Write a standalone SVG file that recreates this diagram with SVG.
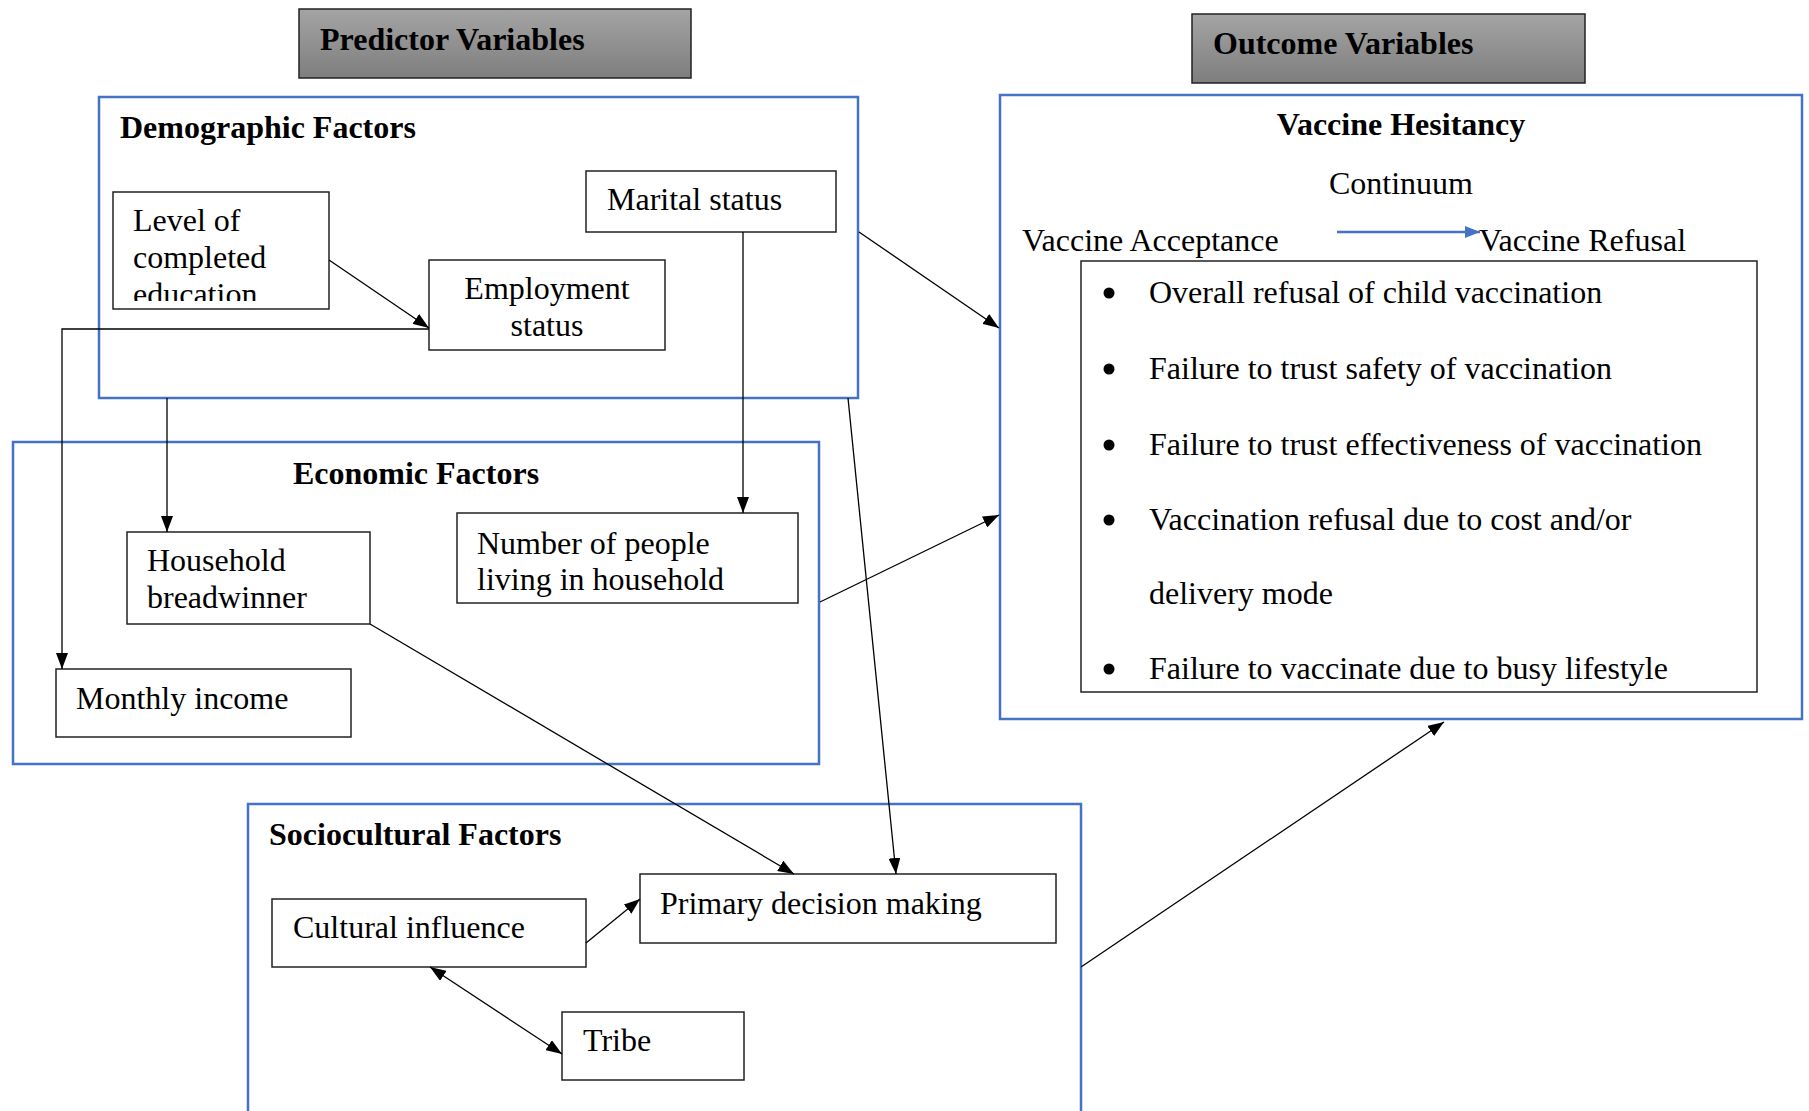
<svg xmlns="http://www.w3.org/2000/svg" width="1809" height="1111" viewBox="0 0 1809 1111">
<style>
text{font-family:"Liberation Serif","Times New Roman",serif;font-size:32px;fill:#000}
.b{font-weight:bold}
.c{text-anchor:middle}
.grp{fill:none;stroke:#4472C4;stroke-width:2.5}
.box{fill:#fff;stroke:#222;stroke-width:1.5}
.hdr{fill:url(#g);stroke:#222;stroke-width:1.5}
.con{fill:none;stroke:#000;stroke-width:1.3}
</style>
<defs>
<linearGradient id="g" x1="0" y1="0" x2="0" y2="1">
<stop offset="0" stop-color="#a4a4a4"/>
<stop offset="1" stop-color="#7e7e7e"/>
</linearGradient>
<marker id="ah" markerUnits="userSpaceOnUse" markerWidth="16" markerHeight="12" refX="16" refY="6" orient="auto-start-reverse">
<path d="M0,0 L16,6 L0,12 z" fill="#000"/>
</marker>
<marker id="ahb" markerUnits="userSpaceOnUse" markerWidth="15" markerHeight="12" refX="15" refY="6" orient="auto">
<path d="M0,0 L15,6 L0,12 z" fill="#4472C4"/>
</marker>
<clipPath id="clipLevel"><rect x="113" y="192" width="216" height="109"/></clipPath>
</defs>
<rect width="1809" height="1111" fill="#fff"/>

<g id="predictor-header">
<rect class="hdr" x="299" y="9" width="392" height="69"/>
<text class="b" x="320" y="50">Predictor Variables</text>
</g>
<g id="outcome-header">
<rect class="hdr" x="1192" y="14" width="393" height="69"/>
<text class="b" x="1213" y="54">Outcome Variables</text>
</g>

<g id="demographic-factors">
<rect class="grp" x="99" y="97" width="759" height="301"/>
<text class="b" x="120" y="138">Demographic Factors</text>
</g>
<g id="economic-factors">
<rect class="grp" x="13" y="442" width="806" height="322"/>
<text class="b c" x="416" y="484">Economic Factors</text>
</g>
<g id="sociocultural-factors">
<rect class="grp" x="248" y="804" width="833" height="330"/>
<text class="b" x="269" y="845">Sociocultural Factors</text>
</g>
<g id="vaccine-hesitancy">
<rect class="grp" x="1000" y="95" width="802" height="624"/>
<text class="b c" x="1401" y="135">Vaccine Hesitancy</text>
<text class="c" x="1401" y="194">Continuum</text>
<text x="1022" y="251">Vaccine Acceptance</text>
<line x1="1337" y1="232" x2="1480" y2="232" stroke="#4472C4" stroke-width="2.5" marker-end="url(#ahb)"/>
<text x="1479" y="251">Vaccine Refusal</text>
</g>

<g id="level-of-education">
<rect class="box" x="113" y="192" width="216" height="117"/>
<g clip-path="url(#clipLevel)">
<text x="133" y="231">Level of</text>
<text x="133" y="268">completed</text>
<text x="133" y="305">education</text>
</g>
</g>
<g id="marital-status">
<rect class="box" x="586" y="171" width="250" height="61"/>
<text x="607" y="210">Marital status</text>
</g>
<g id="employment-status">
<rect class="box" x="429" y="260" width="236" height="90"/>
<text class="c" x="547" y="299">Employment</text>
<text class="c" x="547" y="336">status</text>
</g>
<g id="household-breadwinner">
<rect class="box" x="127" y="532" width="243" height="92"/>
<text x="147" y="571">Household</text>
<text x="147" y="608">breadwinner</text>
</g>
<g id="number-of-people">
<rect class="box" x="457" y="513" width="341" height="90"/>
<text x="477" y="554">Number of people</text>
<text x="477" y="590">living in household</text>
</g>
<g id="monthly-income">
<rect class="box" x="56" y="669" width="295" height="68"/>
<text x="76" y="709">Monthly income</text>
</g>
<g id="cultural-influence">
<rect class="box" x="272" y="899" width="314" height="68"/>
<text x="293" y="938">Cultural influence</text>
</g>
<g id="primary-decision-making">
<rect class="box" x="640" y="874" width="416" height="69"/>
<text x="660" y="914">Primary decision making</text>
</g>
<g id="tribe">
<rect class="box" x="562" y="1012" width="182" height="68"/>
<text x="583" y="1051">Tribe</text>
</g>
<g id="hesitancy-items">
<rect class="box" x="1081" y="261" width="676" height="431"/>
<circle cx="1109" cy="293" r="5.5"/>
<text x="1149" y="303">Overall refusal of child vaccination</text>
<circle cx="1109" cy="369" r="5.5"/>
<text x="1149" y="379">Failure to trust safety of vaccination</text>
<circle cx="1109" cy="445" r="5.5"/>
<text x="1149" y="455">Failure to trust effectiveness of vaccination</text>
<circle cx="1109" cy="520" r="5.5"/>
<text x="1149" y="530">Vaccination refusal due to cost and/or</text>
<text x="1149" y="604">delivery mode</text>
<circle cx="1109" cy="669" r="5.5"/>
<text x="1149" y="679">Failure to vaccinate due to busy lifestyle</text>
</g>

<g id="connectors">
<line class="con" x1="329" y1="260" x2="429" y2="328" marker-end="url(#ah)"/>
<polyline class="con" points="429,329 62,329 62,669" marker-end="url(#ah)"/>
<line class="con" x1="167" y1="398" x2="167" y2="532" marker-end="url(#ah)"/>
<line class="con" x1="743" y1="232" x2="743" y2="513" marker-end="url(#ah)"/>
<line class="con" x1="859" y1="232" x2="999" y2="328" marker-end="url(#ah)"/>
<line class="con" x1="848" y1="398" x2="896" y2="874" marker-end="url(#ah)"/>
<line class="con" x1="370" y1="624" x2="794" y2="874" marker-end="url(#ah)"/>
<line class="con" x1="820" y1="602" x2="999" y2="515" marker-end="url(#ah)"/>
<line class="con" x1="1081" y1="967" x2="1444" y2="722" marker-end="url(#ah)"/>
<line class="con" x1="586" y1="943" x2="640" y2="899" marker-end="url(#ah)"/>
<line class="con" x1="430" y1="967" x2="562" y2="1054" marker-start="url(#ah)" marker-end="url(#ah)"/>
</g>
</svg>
